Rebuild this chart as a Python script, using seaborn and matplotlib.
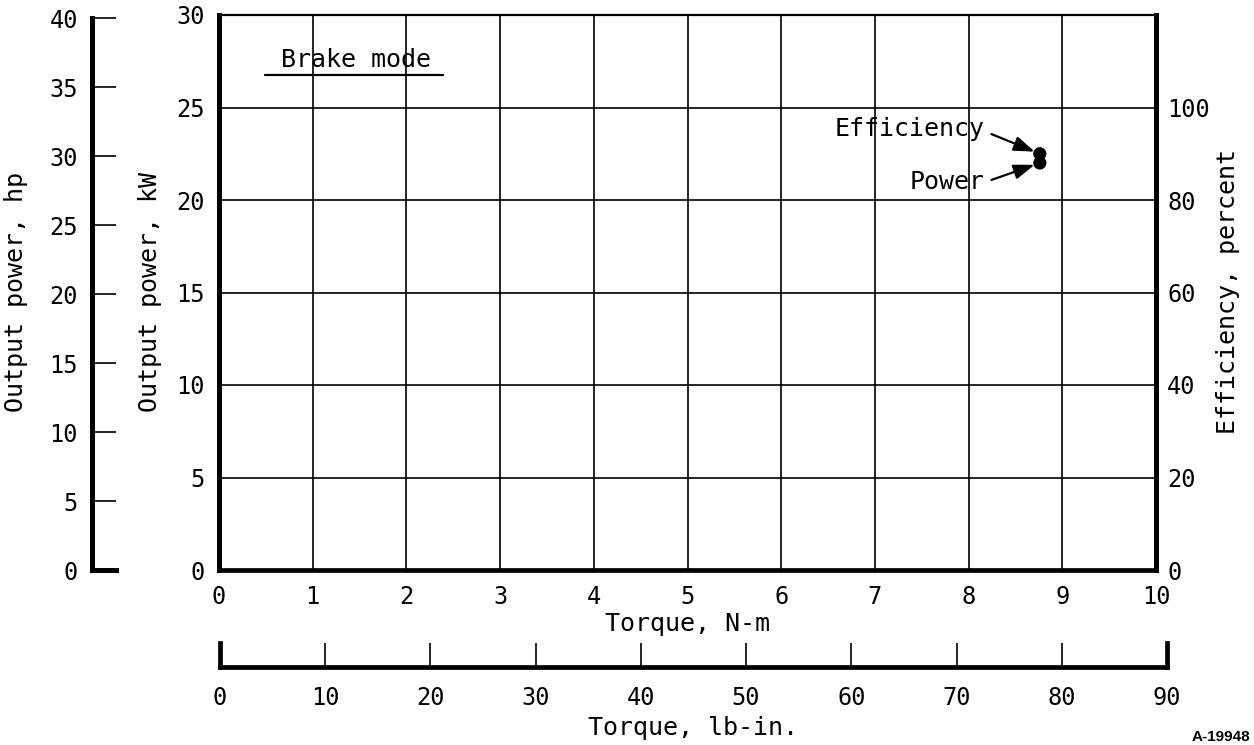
import matplotlib
matplotlib.use("Agg")
import matplotlib.pyplot as plt
import seaborn as sns
import numpy as np
import pandas as pd
from matplotlib.lines import Line2D

# ---------------- data ----------------
torque_nm = [8.76]
power_kw = [22.0]
efficiency_pct = [90.0]

x_ticks_nm = list(range(0, 11))
y_ticks_kw = [0, 5, 10, 15, 20, 25, 30]
y_ticks_hp = [0, 5, 10, 15, 20, 25, 30, 35, 40]
y_ticks_eff = [0, 20, 40, 60, 80, 100]
x_ticks_lbin = [0, 10, 20, 30, 40, 50, 60, 70, 80, 90]

KW_PER_HP = 0.7457

df_power = pd.DataFrame({"torque": torque_nm, "power": power_kw})
df_eff = pd.DataFrame({"torque": torque_nm, "eff": efficiency_pct})

# ---------------- style ----------------
sns.set_theme(style="white")
MONO = ["DejaVu Sans Mono", "DejaVu Sans"]
plt.rcParams["font.family"] = MONO
plt.rcParams["text.color"] = "black"
plt.rcParams["axes.labelcolor"] = "black"
plt.rcParams["xtick.color"] = "black"
plt.rcParams["ytick.color"] = "black"

W, H = 1254, 745
fig = plt.figure(figsize=(W / 100, H / 100), dpi=100)
fig.patch.set_facecolor("white")


def rect(x0, y_top, x1, y_bot):
    return [x0 / W, (H - y_bot) / H, (x1 - x0) / W, (y_bot - y_top) / H]


TICK_FS = 17
LABEL_FS = 18

# ---------------- main axes ----------------
ax = fig.add_axes(rect(219, 15, 1156, 570))
ax.set_facecolor("white")
ax.set_xlim(0, 10)
ax.set_ylim(0, 30)
ax.set_xticks(x_ticks_nm)
ax.set_yticks(y_ticks_kw)
ax.grid(True, color="black", linewidth=1.2)
ax.set_axisbelow(True)
ax.tick_params(axis="x", length=0, pad=11, labelsize=TICK_FS)
ax.tick_params(axis="y", length=0, pad=10, labelsize=TICK_FS)
for side, lw in [("left", 3.6), ("bottom", 3.4), ("right", 3.6), ("top", 1.6)]:
    ax.spines[side].set_visible(True)
    ax.spines[side].set_color("black")
    ax.spines[side].set_linewidth(lw)
ax.set_xlabel("Torque, N-m", fontsize=LABEL_FS, labelpad=2)

sns.scatterplot(data=df_power, x="torque", y="power", ax=ax, color="black",
                s=90, edgecolor="none", zorder=5, legend=False)
ax.set_ylabel("")

# efficiency axis
ax2 = ax.twinx()
ax2.set_ylim(0, 120)
ax2.set_yticks(y_ticks_eff)
ax2.tick_params(axis="y", length=0, pad=8, labelsize=TICK_FS)
for s in ax2.spines.values():
    s.set_visible(False)
ax2.grid(False)
sns.scatterplot(data=df_eff, x="torque", y="eff", ax=ax2, color="black",
                s=90, edgecolor="none", zorder=5, legend=False)
ax2.set_ylabel("")
ax2.set_xlim(0, 10)

# annotations
ax2.annotate("Efficiency", xy=(torque_nm[0], efficiency_pct[0]),
             xytext=(-40, 18), textcoords="offset points",
             ha="right", va="center", fontsize=LABEL_FS,
             arrowprops=dict(arrowstyle="-|>,head_length=0.7,head_width=0.25",
                             color="black", lw=1.6,
                             mutation_scale=18, shrinkA=3, shrinkB=4,
                             relpos=(1.0, 0.4)))
ax2.annotate("Power", xy=(torque_nm[0], power_kw[0] * 4),
             xytext=(-40, -14), textcoords="offset points",
             ha="right", va="center", fontsize=LABEL_FS,
             arrowprops=dict(arrowstyle="-|>,head_length=0.7,head_width=0.25",
                             color="black", lw=1.6,
                             mutation_scale=18, shrinkA=3, shrinkB=4,
                             relpos=(1.0, 0.5)))

# Brake mode label
ax.text(0.146, 0.919, "Brake mode", transform=ax.transAxes,
        ha="center", va="center", fontsize=LABEL_FS)
ax.add_line(Line2D([0.049, 0.239], [0.892, 0.892], transform=ax.transAxes,
                   color="black", lw=1.6))

# ---------------- hp axis ----------------
axhp = fig.add_axes(rect(92, 15, 116, 570))
axhp.set_facecolor("none")
axhp.set_ylim(0, 30 / KW_PER_HP)
axhp.set_xlim(0, 1)
axhp.set_yticks(y_ticks_hp)
axhp.set_xticks([])
axhp.grid(False)
for side in ["top", "right"]:
    axhp.spines[side].set_visible(False)
axhp.spines["left"].set_visible(True)
axhp.spines["left"].set_linewidth(3.6)
axhp.spines["left"].set_color("black")
axhp.spines["left"].set_bounds(0, 40)
axhp.spines["bottom"].set_visible(True)
axhp.spines["bottom"].set_linewidth(3.6)
axhp.spines["bottom"].set_color("black")
axhp.tick_params(axis="y", direction="in", length=17, width=1.2,
                 pad=10, labelsize=TICK_FS, left=True)

# ---------------- lb-in axis ----------------
axlb = fig.add_axes(rect(220, 643, 1167, 667))
axlb.set_facecolor("none")
axlb.set_xlim(0, 90)
axlb.set_ylim(0, 1)
axlb.set_xticks(x_ticks_lbin)
axlb.set_yticks([])
axlb.grid(False)
axlb.spines["top"].set_visible(False)
for side in ["bottom", "left", "right"]:
    axlb.spines[side].set_visible(True)
    axlb.spines[side].set_color("black")
    axlb.spines[side].set_linewidth(3.4)
axlb.tick_params(axis="x", direction="in", length=17, width=1.2,
                 pad=14, labelsize=TICK_FS, bottom=True)
axlb.set_xlabel("Torque, lb-in.", fontsize=LABEL_FS, labelpad=4)

# ---------------- y labels ----------------
yc = (H - 292) / H
fig.text(16 / W, yc, "Output power, hp", rotation=90, ha="center",
         va="center", fontsize=LABEL_FS)
fig.text(150 / W, yc, "Output power, kW", rotation=90, ha="center",
         va="center", fontsize=LABEL_FS)
fig.text(1228 / W, yc, "Efficiency, percent", rotation=90, ha="center",
         va="center", fontsize=LABEL_FS)

fig.text(1250 / W, (H - 737) / H, "A-19948", ha="right", va="center",
         fontsize=11, fontweight="bold", family=["Liberation Sans", "DejaVu Sans"])

fig.savefig("out.png", dpi=100, facecolor="white")
